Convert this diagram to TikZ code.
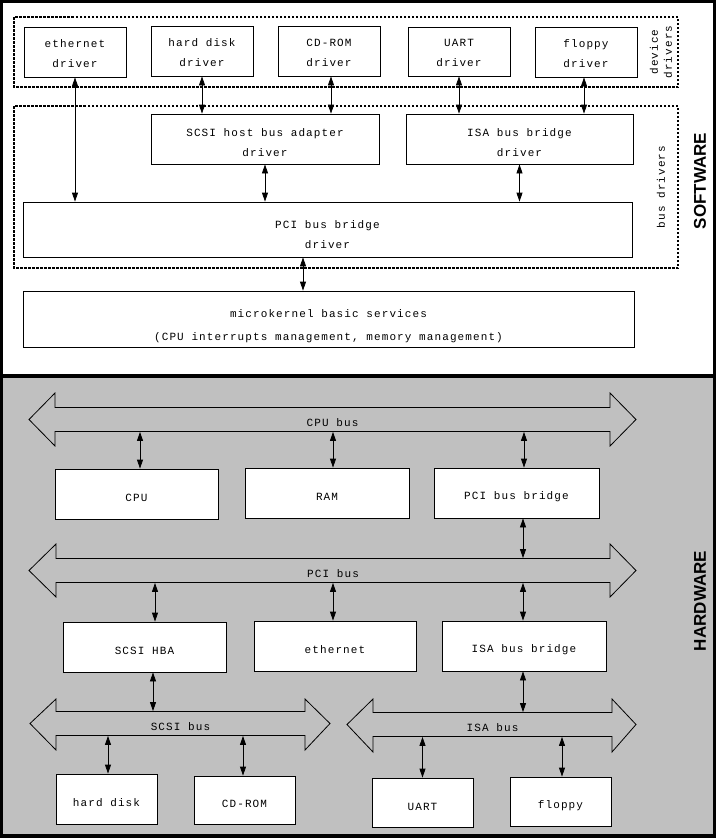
\documentclass[tikz,border=0pt]{standalone}
\usepackage{fontspec}
\setmonofont[LetterSpace=10]{Liberation Mono}
\setsansfont{Liberation Sans}
\usepackage{tikz}
\usetikzlibrary{arrows.meta,positioning,calc}
\definecolor{hwgray}{RGB}{192,192,192}

\begin{document}
\begin{tikzpicture}[x=1pt,y=-1pt,>={Triangle[length=9pt,width=6pt]},line width=0.8pt,
  every node/.style={font=\fontsize{11}{20}\selectfont\ttfamily},
  box/.style={draw,fill=white,inner sep=0pt,align=center,text height=15.5pt},
  busbody/.style={inner sep=0pt,minimum height=24pt,text height=13.5pt},
  group/.style={line width=2.5pt,dash pattern=on 2.5pt off 1.5pt},
  grouplabel/.style={rotate=90,align=center,font=\fontsize{11}{14}\selectfont\ttfamily},
  side/.style={rotate=90,font=\fontsize{17}{20}\selectfont\sffamily\bfseries}]
\useasboundingbox (0,0) rectangle (716,838);
% panels
\fill[black] (0,0) rectangle (716,838);
\fill[white] (3,3) rectangle (713,374);
\fill[hwgray] (3,378) rectangle (713,834);

% ---- software ----
\draw[group] (14,17) rectangle (678,87);
\draw[group] (14,106) rectangle (678,268);
\node[grouplabel] (devlbl) at (661,52) {device\\drivers};
\node[grouplabel] (buslbl) at (661,187) {bus drivers};
\node[side] (swlbl) at (700,181) {SOFTWARE};
\node[box,minimum width=102pt,minimum height=50pt,text height=30.5pt] (ethdrv) at (75,52) {ethernet\\driver};
\node[box,minimum width=102pt,minimum height=50pt,text height=30.5pt] (hddrv) at (202,51) {hard disk\\driver};
\node[box,minimum width=102pt,minimum height=50pt,text height=30.5pt] (cddrv) at (329,51) {CD-ROM\\driver};
\node[box,minimum width=102pt,minimum height=49pt,text height=30.5pt] (uartdrv) at (459,51.5) {UART\\driver};
\node[box,minimum width=102pt,minimum height=50pt,text height=30.5pt] (flopdrv) at (586,52) {floppy\\driver};
\node[box,minimum width=228pt,minimum height=50pt,text height=34.5pt] (scsidrv) at (265,139) {SCSI host bus adapter\\driver};
\node[box,minimum width=227pt,minimum height=50pt,text height=34.5pt] (isadrv) at (519.5,139) {ISA bus bridge\\driver};
\node[box,minimum width=609pt,minimum height=55pt,text height=37.5pt] (pcidrv) at (327.5,229.5) {PCI bus bridge\\driver};
\node[box,minimum width=611pt,minimum height=56pt,text height=45.5pt] (ukernel) at (328.5,319) {microkernel basic services\\[3pt](CPU interrupts management, memory management)};
\draw[<->] (ethdrv.south) -- (ethdrv.south |- pcidrv.north);
\draw[<->] (hddrv.south) -- (hddrv.south |- scsidrv.north);
\draw[<->] ([xshift=2pt]cddrv.south) -- ([xshift=2pt]cddrv.south |- scsidrv.north);
\draw[<->] (uartdrv.south) -- (uartdrv.south |- isadrv.north);
\draw[<->] ([xshift=-2pt]flopdrv.south) -- ([xshift=-2pt]flopdrv.south |- isadrv.north);
\draw[<->] (scsidrv.south) -- (scsidrv.south |- pcidrv.north);
\draw[<->] (isadrv.south) -- (isadrv.south |- pcidrv.north);
\draw[<->] ([xshift=-24.5pt]pcidrv.south) -- ([xshift=-24.5pt]pcidrv.south |- ukernel.north);

% ---- hardware ----
\node[side] (hwlbl) at (700,601) {HARDWARE};
% buses
\draw (55,407.5) -- (610,407.5) -- (610,393) -- (636,419.5) -- (610,446) -- (610,431.5) -- (55,431.5) -- (55,446) -- (29,419.5) -- (55,393) -- cycle;
\draw (56,558.5) -- (610,558.5) -- (610,544) -- (636,570.5) -- (610,597) -- (610,582.5) -- (56,582.5) -- (56,597) -- (29,570.5) -- (56,544) -- cycle;
\draw (56,711.5) -- (305,711.5) -- (305,699) -- (330,723.5) -- (305,750) -- (305,735.5) -- (56,735.5) -- (56,750) -- (30,723.5) -- (56,699) -- cycle;
\draw (373,712.5) -- (612,712.5) -- (612,699) -- (636,724.5) -- (612,752) -- (612,736.5) -- (373,736.5) -- (373,752) -- (347,724.5) -- (373,699) -- cycle;
\node[busbody,minimum width=555pt] (cpubus) at (332.5,419.5) {CPU bus};
\node[busbody,minimum width=554pt] (pcibus) at (333,570.5) {PCI bus};
\node[busbody,minimum width=249pt] (scsibus) at (180.5,723.5) {SCSI bus};
\node[busbody,minimum width=239pt] (isabus) at (492.5,724.5) {ISA bus};
% devices
\node[box,minimum width=163pt,minimum height=50pt] (cpu) at (136.5,494) {CPU};
\node[box,minimum width=164pt,minimum height=50pt] (ram) at (327,493) {RAM};
\node[box,minimum width=165pt,minimum height=50pt] (pcibr) at (516.5,493) {PCI bus bridge};
\node[box,minimum width=163pt,minimum height=50pt] (scsihba) at (144.5,647) {SCSI HBA};
\node[box,minimum width=162pt,minimum height=50pt] (ether) at (335,646) {ethernet};
\node[box,minimum width=164pt,minimum height=50pt] (isabr) at (524,646) {ISA bus bridge};
\node[box,minimum width=101pt,minimum height=50pt] (hd) at (106.5,799) {hard disk};
\node[box,minimum width=101pt,minimum height=48pt] (cdrom) at (244.5,800) {CD-ROM};
\node[box,minimum width=101pt,minimum height=49pt] (uart) at (422.5,802.5) {UART};
\node[box,minimum width=101pt,minimum height=49pt] (floppy) at (560.5,801.5) {floppy};
\draw[<->] ([xshift=3.5pt]cpu.north) -- ([xshift=3.5pt]cpu.north |- cpubus.south);
\draw[<->] ([xshift=6pt]ram.north) -- ([xshift=6pt]ram.north |- cpubus.south);
\draw[<->] ([xshift=7.5pt]pcibr.north) -- ([xshift=7.5pt]pcibr.north |- cpubus.south);
\draw[<->] ([xshift=6.5pt]pcibr.south) -- ([xshift=6.5pt]pcibr.south |- pcibus.north);
\draw[<->] ([xshift=10.5pt]scsihba.north) -- ([xshift=10.5pt]scsihba.north |- pcibus.south);
\draw[<->] ([xshift=-2pt]ether.north) -- ([xshift=-2pt]ether.north |- pcibus.south);
\draw[<->] ([xshift=-1pt]isabr.north) -- ([xshift=-1pt]isabr.north |- pcibus.south);
\draw[<->] ([xshift=8.5pt]scsihba.south) -- ([xshift=8.5pt]scsihba.south |- scsibus.north);
\draw[<->] ([xshift=-1pt]isabr.south) -- ([xshift=-1pt]isabr.south |- isabus.north);
\draw[<->] ([xshift=1.5pt]hd.north) -- ([xshift=1.5pt]hd.north |- scsibus.south);
\draw[<->] ([xshift=-1.5pt]cdrom.north) -- ([xshift=-1.5pt]cdrom.north |- scsibus.south);
\draw[<->] (uart.north) -- (uart.north |- isabus.south);
\draw[<->] ([xshift=1.5pt]floppy.north) -- ([xshift=1.5pt]floppy.north |- isabus.south);
\end{tikzpicture}
\end{document}
